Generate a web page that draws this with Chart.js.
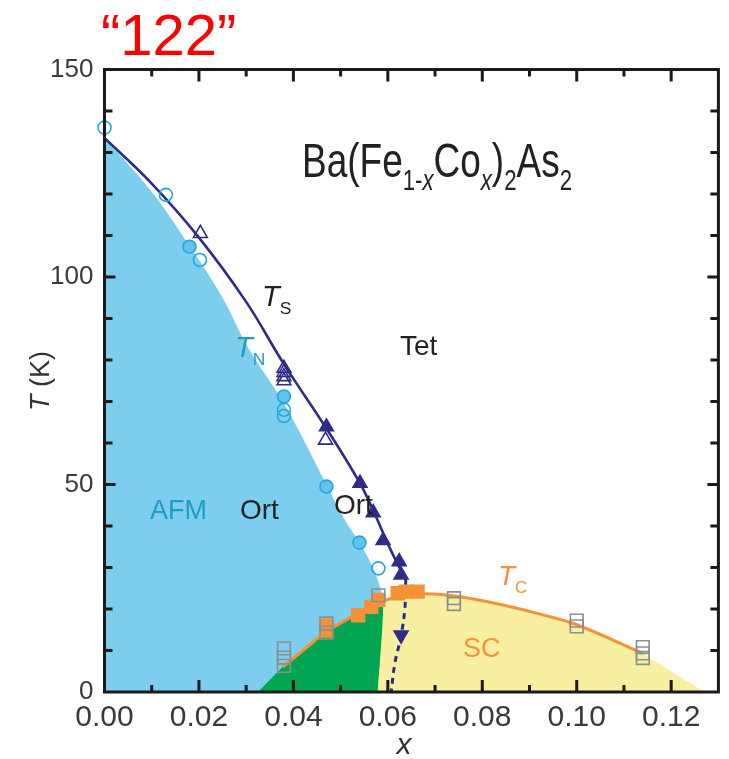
<!DOCTYPE html>
<html>
<head>
<meta charset="utf-8">
<script src="https://cdn.jsdelivr.net/npm/chart.js@4.4.0/dist/chart.umd.min.js"></script>
<style>
  html, body { margin: 0; padding: 0; background: #fff; }
  #wrap { width: 729px; height: 759px; position: relative; }
</style>
</head>
<body>
<div id="wrap"><canvas id="chartFaz"></canvas></div>
<script>
// ===============================
// DATA (x = Co content, T in K)
// ===============================
const xTickValues = [0, 0.02, 0.04, 0.06, 0.08, 0.10, 0.12];
const xTickLabels = ["0.00", "0.02", "0.04", "0.06", "0.08", "0.10", "0.12"];
const yTickValues = [0, 50, 100, 150];
const yTickLabels = ["0", "50", "100", "150"];

// region boundaries
const afmX = [0, 0.01, 0.018, 0.025, 0.0304, 0.038, 0.047, 0.0506, 0.054, 0.057, 0.059];
const afmT = [133.5, 120.5, 107.5, 95, 83, 69.5, 50, 42, 36, 29.5, 23];

const greenX = [0.0325, 0.0377, 0.042, 0.047, 0.053, 0.0591, 0.0592];
const greenT = [0, 6, 10, 14.5, 18.5, 22, 0];

const scX = [0.0578, 0.0583, 0.0588, 0.0591, 0.063, 0.068, 0.075, 0.085, 0.0925, 0.10, 0.114, 0.127];
const scT = [0, 7, 15, 22, 23.2, 23.7, 23, 20.8, 18.7, 16.2, 9.3, 0];

// lines
const tsX = [0, 0.01, 0.02, 0.03, 0.038, 0.047, 0.054, 0.057, 0.0605, 0.0638];
const tsT = [133.5, 122.5, 109.5, 94, 79, 63.5, 50.5, 43.5, 34.5, 27];

const tsDashX = [0.0638, 0.0636, 0.0627, 0.0615, 0.0607];
const tsDashT = [27, 20, 13, 7, 0];

const tcX = [0.0377, 0.042, 0.047, 0.053, 0.058, 0.063, 0.068, 0.075, 0.085, 0.0925, 0.10, 0.114];
const tcT = [6, 10, 14.5, 18.5, 21.5, 23.2, 23.7, 23, 20.8, 18.7, 16.2, 9.3];

// markers
const circOpenX = [0, 0.013, 0.0202, 0.038, 0.038, 0.058];
const circOpenT = [136, 119.8, 104.1, 68, 66.5, 29.8];

const circFullX = [0.018, 0.038, 0.047, 0.054];
const circFullT = [107.3, 71.2, 49.5, 36];

const triOpenX = [0.0203, 0.038, 0.038, 0.038, 0.038, 0.0468];
const triOpenT = [110.5, 78, 77, 76, 75, 60.7];

const triFullX = [0.047, 0.0541, 0.0569, 0.059, 0.0624, 0.0628];
const triFullT = [63.9, 50.3, 43.2, 36.5, 31.4, 28.2];

const triDownX = [0.0628];
const triDownT = [13.7];

const sqOrangeX = [0.047, 0.047, 0.0537, 0.0565, 0.058, 0.0621, 0.0638, 0.0663];
const sqOrangeT = [16, 14.8, 18.5, 20.5, 22.2, 23.8, 24.2, 24.2];

const sqGrayX = [0.038, 0.038, 0.038, 0.047, 0.047, 0.058, 0.074, 0.074, 0.10, 0.10, 0.114, 0.114, 0.114];
const sqGrayT = [10.5, 8.3, 6.3, 16.5, 14.3, 23.3, 22.6, 21.2, 17.2, 15.8, 10.8, 9.3, 8.2];

// ===============================
// HELPERS
// ===============================
const FONT = '"Liberation Sans", Arial, Helvetica, sans-serif';
const NAVY = "#2f2c87";
const ORANGE = "#f39237";
const CYAN = "#23a8dc";
const TEAL = "#1d9fc2";

function pts(xs, ts) {
  return xs.map((x, i) => ({ x: x, y: ts[i] }));
}

// text with sub-scripts / italics, optional horizontal squeeze to a width
function richText(ctx, parts, x, y, size, color, fitWidth, align) {
  const subSize = size * 0.6;
  const fontOf = p => `${p.it ? "italic " : ""}${p.sub ? subSize : size}px ${FONT}`;
  let w = 0;
  parts.forEach(p => { ctx.font = fontOf(p); w += ctx.measureText(p.t).width; });
  const sx = fitWidth ? fitWidth / w : 1;
  ctx.save();
  ctx.translate(x, y);
  ctx.scale(sx, 1);
  ctx.fillStyle = color;
  ctx.textBaseline = "alphabetic";
  ctx.textAlign = "left";
  let cx = align === "center" ? -w / 2 : 0;
  parts.forEach(p => {
    ctx.font = fontOf(p);
    ctx.fillText(p.t, cx, p.sub ? size * 0.28 : 0);
    cx += ctx.measureText(p.t).width;
  });
  ctx.restore();
}

// ===============================
// PLUGINS
// ===============================
const frameTicks = {
  id: "frameTicks",
  afterDatasetsDraw(chart) {
    const { ctx, chartArea: a, scales: { x, y } } = chart;
    ctx.save();
    ctx.strokeStyle = "#1a1a1a";
    ctx.lineWidth = 3;
    ctx.beginPath();
    for (let i = 1; i < 13; i++) {
      const px = x.getPixelForValue(i / 100);
      const len = i % 2 === 0 ? 12 : 7;
      ctx.moveTo(px, a.bottom); ctx.lineTo(px, a.bottom - len);
      ctx.moveTo(px, a.top); ctx.lineTo(px, a.top + len);
    }
    for (let v = 10; v < 150; v += 10) {
      const py = y.getPixelForValue(v);
      const len = v % 50 === 0 ? 11 : 8;
      ctx.moveTo(a.left, py); ctx.lineTo(a.left + len, py);
      ctx.moveTo(a.right, py); ctx.lineTo(a.right - len, py);
    }
    ctx.stroke();
    ctx.strokeRect(a.left, a.top, a.right - a.left, a.bottom - a.top);
    ctx.restore();
  }
};

const annotations = {
  id: "annotations",
  afterDraw(chart) {
    const ctx = chart.ctx;

    // panel tag
    ctx.save();
    ctx.fillStyle = "#ff0000";
    ctx.font = `58px ${FONT}`;
    ctx.textBaseline = "alphabetic";
    ctx.fillText("\u201C122\u201D", 101, 55);
    ctx.restore();

    // formula
    richText(ctx, [
      { t: "Ba(Fe" }, { t: "1-", sub: true }, { t: "x", sub: true, it: true },
      { t: "Co" }, { t: "x", sub: true, it: true }, { t: ")" }, { t: "2", sub: true },
      { t: "As" }, { t: "2", sub: true }
    ], 302, 177, 48, "#222", 270);

    richText(ctx, [{ t: "T", it: true }, { t: "S", sub: true }], 262, 306, 29, "#222");
    richText(ctx, [{ t: "T", it: true }, { t: "N", sub: true }], 235, 357, 29, TEAL);
    richText(ctx, [{ t: "Tet" }], 400, 355, 28, "#222");
    richText(ctx, [{ t: "AFM" }], 150, 519, 27, TEAL);
    richText(ctx, [{ t: "Ort" }], 240, 519, 28, "#222");
    richText(ctx, [{ t: "Ort" }], 334, 514, 28, "#222");
    richText(ctx, [{ t: "T", it: true }, { t: "C", sub: true }], 498, 585, 28, ORANGE);
    richText(ctx, [{ t: "SC" }], 463, 657, 27, ORANGE);

    // axis titles
    richText(ctx, [{ t: "x", it: true }], 404, 754, 30, "#333", null, "center");
    ctx.save();
    ctx.translate(49, 381);
    ctx.rotate(-Math.PI / 2);
    richText(ctx, [{ t: "T", it: true }, { t: " (K)" }], 0, 0, 27, "#333", null, "center");
    ctx.restore();
  }
};

// ===============================
// CHART
// ===============================
const fillSet = (data, color, order, tension) => ({
  type: "line", data, order,
  borderColor: "rgba(0,0,0,0)", borderWidth: 0,
  backgroundColor: color, fill: "origin",
  pointRadius: 0, tension: tension
});

const markerSet = (data, style, radius, border, bg, order, extra) => Object.assign({
  type: "line", data, order, showLine: false,
  pointStyle: style, pointRadius: radius, pointHoverRadius: radius,
  pointBorderColor: border, pointBackgroundColor: bg, pointBorderWidth: 1.6,
  clip: false
}, extra || {});

const chartFaz = new Chart(document.getElementById("chartFaz"), {
  type: "line",
  data: {
    datasets: [
      markerSet(pts(sqGrayX, sqGrayT), "rect", 9, "#8a8f90", "rgba(0,0,0,0)", 1),
      markerSet(pts(sqOrangeX, sqOrangeT), "rect", 9, ORANGE, ORANGE, 2),
      markerSet(pts(triFullX, triFullT), "triangle", 8, NAVY, NAVY, 2),
      markerSet(pts(triDownX, triDownT), "triangle", 8, NAVY, NAVY, 2, { pointRotation: 180 }),
      markerSet(pts(triOpenX, triOpenT), "triangle", 8, NAVY, "rgba(0,0,0,0)", 2),
      markerSet(pts(circFullX, circFullT), "circle", 6.5, CYAN, "#62c4ee", 3),
      markerSet(pts(circOpenX, circOpenT), "circle", 6.5, CYAN, "rgba(0,0,0,0)", 3),
      {
        type: "line", data: pts(tcX, tcT), order: 5,
        borderColor: ORANGE, borderWidth: 3, pointRadius: 0, tension: 0.4, fill: false
      },
      {
        type: "line", data: pts(tsX, tsT), order: 5,
        borderColor: NAVY, borderWidth: 2.6, pointRadius: 0, tension: 0.4, fill: false
      },
      {
        type: "line", data: pts(tsDashX, tsDashT), order: 5,
        borderColor: NAVY, borderWidth: 3, borderDash: [6, 5], pointRadius: 0, tension: 0.4, fill: false
      },
      fillSet(pts(scX, scT), "#f8f0a0", 8, 0),
      fillSet(pts(greenX, greenT), "#00a651", 9, 0),
      fillSet(pts(afmX, afmT), "#7dcdee", 10, 0.4)
    ]
  },
  options: {
    responsive: true,
    maintainAspectRatio: false,
    animation: false,
    layout: { padding: { top: 69.5, right: 4, left: 0, bottom: 0 } },
    plugins: {
      legend: { display: false },
      tooltip: { enabled: false },
      filler: { propagate: false, drawTime: "beforeDatasetsDraw" }
    },
    scales: {
      x: {
        type: "linear", min: 0, max: 0.13,
        grid: { display: false, drawTicks: false },
        border: { display: false },
        afterBuildTicks: s => { s.ticks = xTickValues.map(v => ({ value: v })); },
        afterFit: s => { s.height = 67; },
        ticks: {
          autoSkip: false, maxRotation: 0, padding: 8,
          color: "#3a3a3a", font: { family: FONT, size: 30 },
          callback: (v, i) => xTickLabels[i]
        }
      },
      y: {
        type: "linear", min: 0, max: 150,
        grid: { display: false, drawTicks: false },
        border: { display: false },
        afterBuildTicks: s => { s.ticks = yTickValues.map(v => ({ value: v })); },
        afterFit: s => { s.width = 104.5; },
        ticks: {
          padding: 11,
          color: "#3a3a3a", font: { family: FONT, size: 26 },
          callback: (v, i) => yTickLabels[i]
        }
      }
    }
  },
  plugins: [frameTicks, annotations]
});
</script>
</body>
</html>
